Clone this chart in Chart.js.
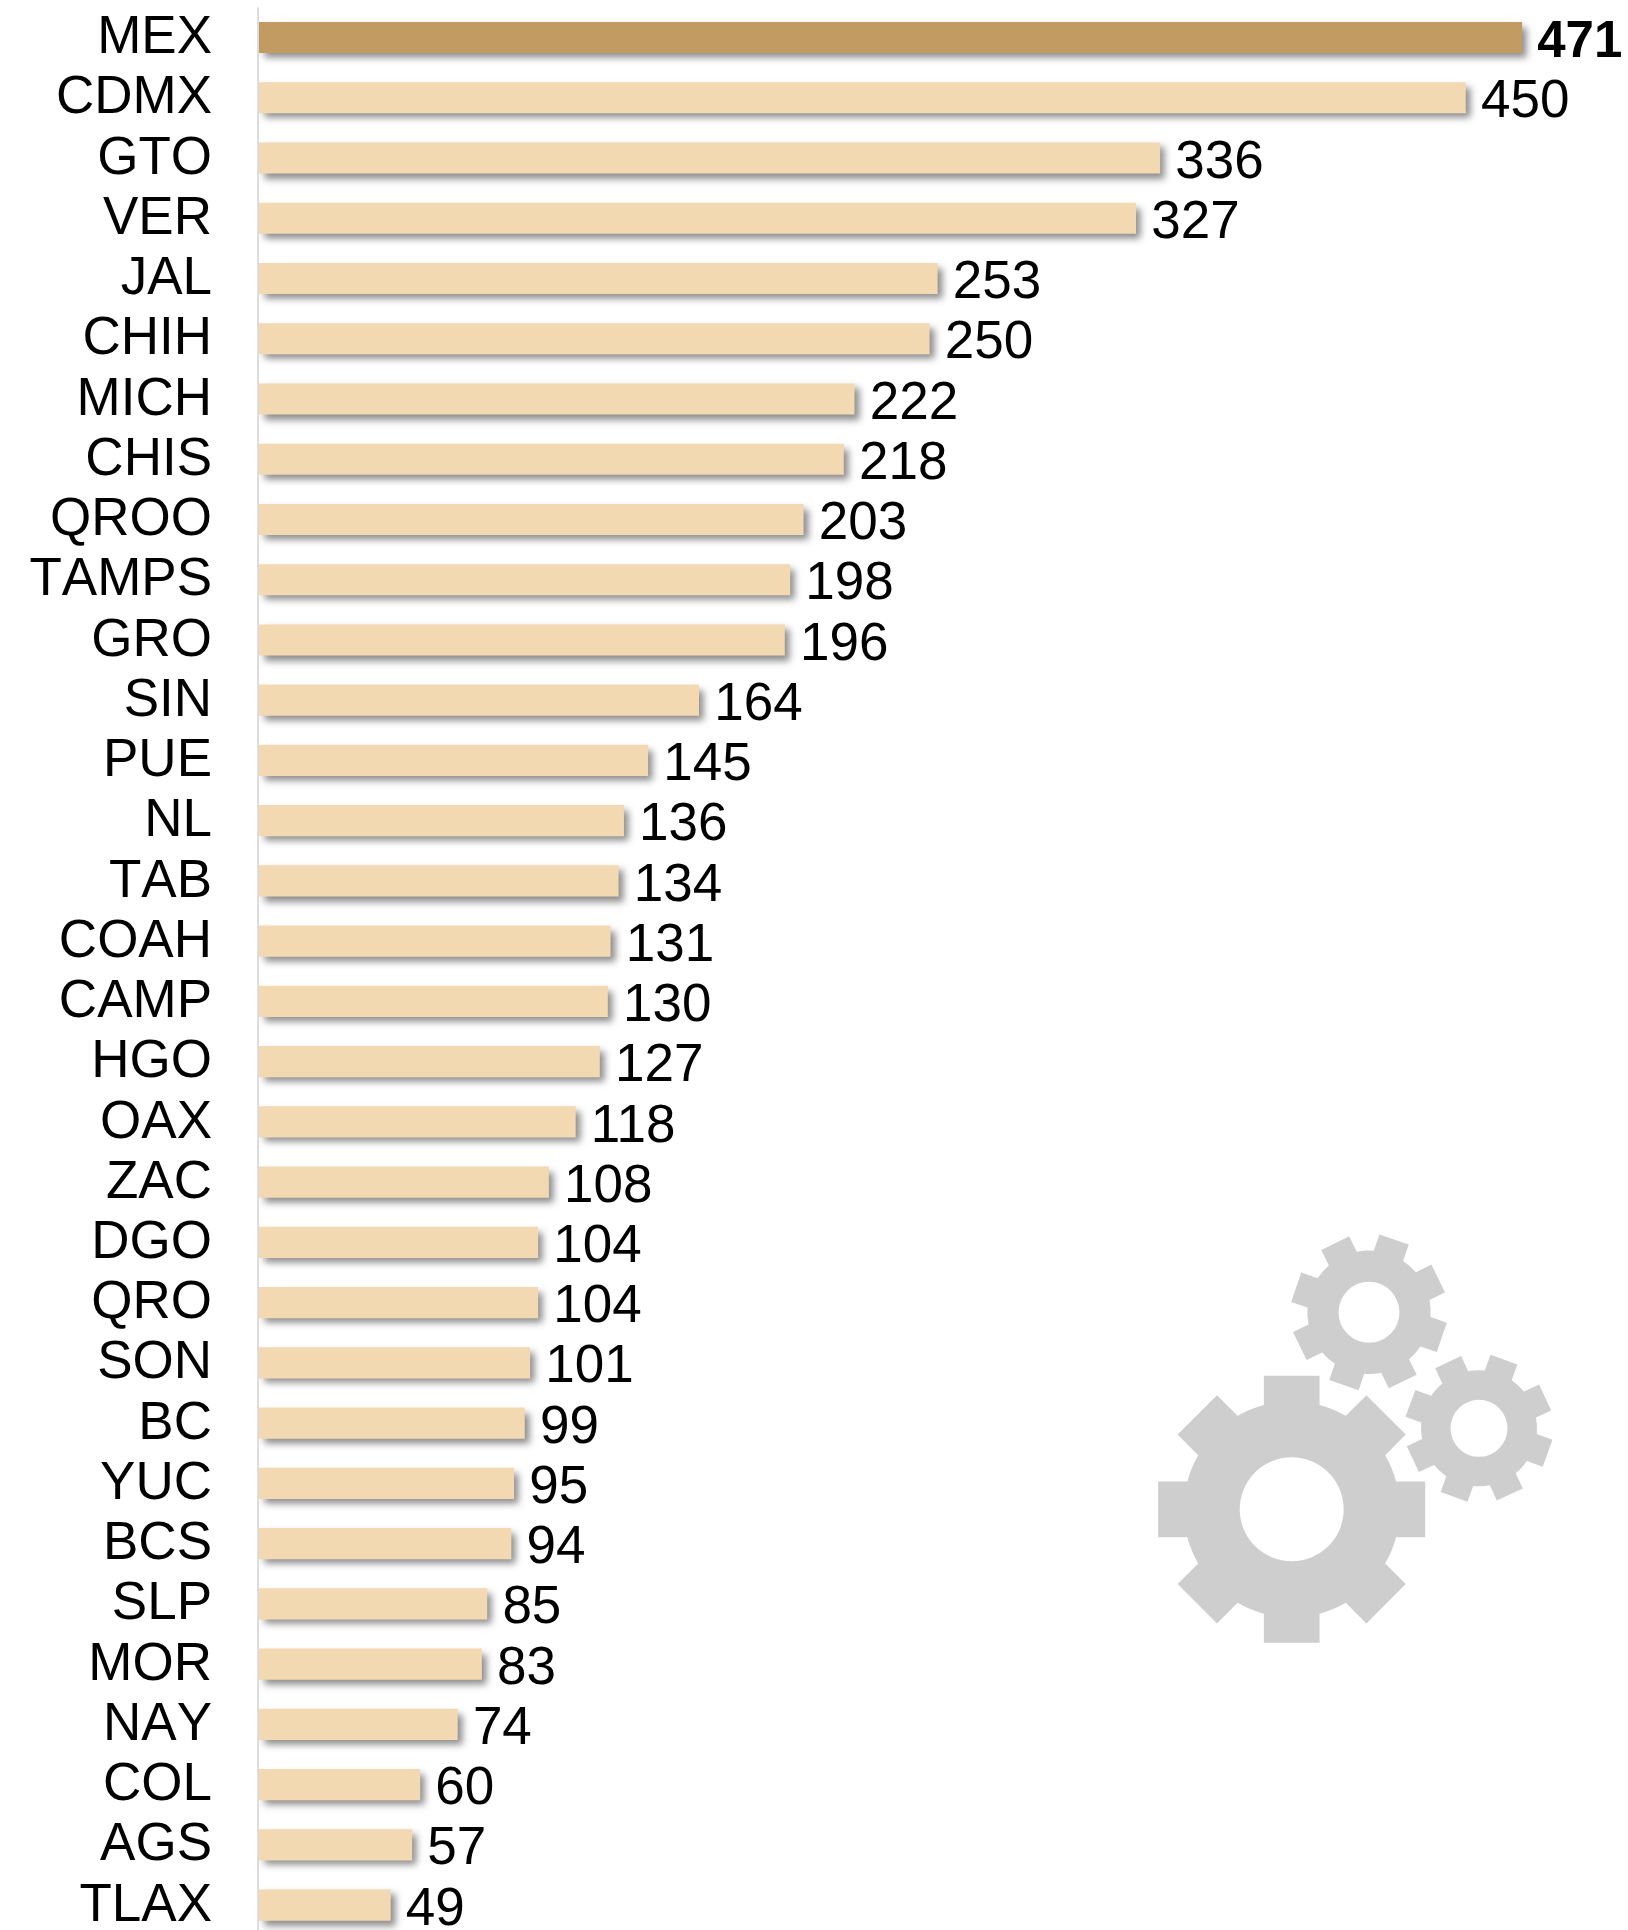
<!DOCTYPE html>
<html><head><meta charset="utf-8">
<style>html,body{margin:0;padding:0;background:#fff;overflow:hidden}#w{width:1628px;height:1930px;overflow:hidden;position:relative}canvas{display:block}</style>
<script src="https://cdn.jsdelivr.net/npm/chart.js@4/dist/chart.umd.js"></script>
</head><body><div id="w"><canvas id="c" width="1628" height="1936"></canvas></div>
<script>
const categories = ["MEX","CDMX","GTO","VER","JAL","CHIH","MICH","CHIS","QROO","TAMPS","GRO","SIN","PUE","NL","TAB","COAH","CAMP","HGO","OAX","ZAC","DGO","QRO","SON","BC","YUC","BCS","SLP","MOR","NAY","COL","AGS","TLAX"];
const values = [471,450,336,327,253,250,222,218,203,198,196,164,145,136,134,131,130,127,118,108,104,104,101,99,95,94,85,83,74,60,57,49];
const highlight = "MEX";
const FONT = '"Liberation Sans", Arial, sans-serif';

const axisLinePlugin = {
  id: 'axisLine',
  beforeDraw(chart){ chart.ctx.fontKerning = 'none'; },
  beforeDatasetsDraw(chart){
    const c = chart.ctx, a = chart.chartArea;
    c.save(); c.fillStyle = '#d9d9d9';
    c.fillRect(a.left - 1.8, a.top, 1.8, a.bottom - a.top);
    c.restore();
  }
};
const shadowPlugin = {
  id: 'barShadow',
  beforeDatasetDraw(chart){
    const c = chart.ctx; c.save();
    c.shadowColor = 'rgba(70,70,70,0.62)';
    c.shadowBlur = 7; c.shadowOffsetX = 5; c.shadowOffsetY = 5;
  },
  afterDatasetDraw(chart){ chart.ctx.restore(); }
};
const labelPlugin = {
  id: 'valueLabels',
  afterDatasetsDraw(chart){
    const c = chart.ctx, meta = chart.getDatasetMeta(0);
    c.save(); c.fontKerning = 'normal'; c.fillStyle = '#000'; c.textAlign = 'left'; c.textBaseline = 'middle';
    meta.data.forEach((bar,i)=>{
      const hi = categories[i] === highlight;
      c.font = (hi ? 'bold 51px ' : '53px ') + FONT;
      c.fillText(String(values[i]), bar.x + 15.5, bar.y + 5);
    });
    c.restore();
  }
};
function gear(c, cx, cy, R, rb, w, hole, rot){
  const n = 8, h = w/2, base = Math.sqrt(rb*rb - h*h), half = Math.atan2(h, base);
  c.beginPath();
  for(let i=0;i<n;i++){
    const a = rot + i*2*Math.PI/n - Math.PI/2;
    const ca = Math.cos(a), sa = Math.sin(a);
    const pt = (r,t)=>[cx + r*ca - t*sa, cy + r*sa + t*ca];
    let p = pt(base,-h); if(i===0) c.moveTo(p[0],p[1]); else c.lineTo(p[0],p[1]);
    p = pt(R,-h); c.lineTo(p[0],p[1]);
    p = pt(R,h); c.lineTo(p[0],p[1]);
    p = pt(base,h); c.lineTo(p[0],p[1]);
    c.arc(cx,cy,rb,a+half,a+2*Math.PI/n-half);
  }
  c.closePath();
  c.moveTo(cx+hole,cy);
  c.arc(cx,cy,hole,0,2*Math.PI,true);
  c.closePath();
  c.fillStyle = '#cecece';
  c.fill('evenodd');
}
const gearsPlugin = {
  id: 'gears',
  afterDraw(chart){
    const c = chart.ctx, d = Math.PI/180;
    gear(c,1291.7,1509.3,133.5,108,55.7,52,0);
    gear(c,1369,1312.3,77,61.7,31,30.5,19*d);
    gear(c,1479,1428.3,73,58,28.6,28.5,20*d);
  }
};
new Chart(document.getElementById('c'),{
  type:'bar',
  data:{labels:categories,datasets:[{
    data:values,
    backgroundColor:categories.map(k=>k===highlight?'#c19b62':'#f2d9b1'),
    barThickness:30.5,
    borderWidth:0
  }]},
  options:{
    indexAxis:'y',responsive:false,animation:false,
    layout:{padding:{top:7.4,bottom:0.8,left:0,right:28.5}},
    plugins:{legend:{display:false},tooltip:{enabled:false},title:{display:false}},
    scales:{
      x:{display:false,min:0,max:500},
      y:{
        afterFit(s){s.width=259;s.paddingTop=0;s.paddingBottom=0;},
        grid:{display:false,drawTicks:false},
        border:{display:false},
        ticks:{autoSkip:false,color:'#000',padding:47,labelOffset:1,font:{family:FONT,size:53}}
      }
    }
  },
  plugins:[axisLinePlugin,shadowPlugin,labelPlugin,gearsPlugin]
});
</script></body></html>
